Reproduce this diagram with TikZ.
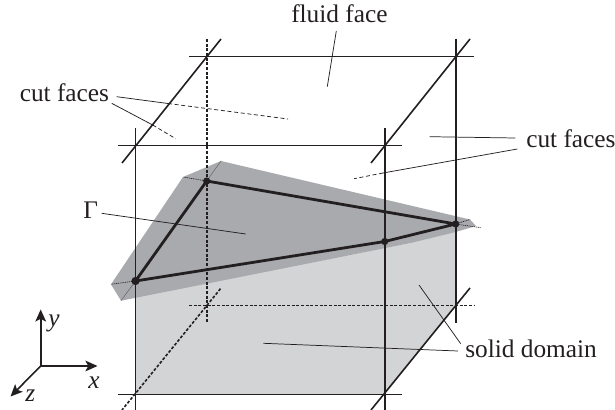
\documentclass[tikz,border=0pt]{standalone}
\usepackage{fontspec}
\setmainfont{Liberation Serif}
\usetikzlibrary{arrows.meta}
\definecolor{planegray}{RGB}{168,170,173}
\definecolor{solidgray}{RGB}{210,212,214}
\definecolor{inkc}{RGB}{35,31,32}
\tikzset{
  x=0.75pt,y=-0.75pt,
  edge/.style={draw=inkc,line width=1.2pt},
  hidden/.style={draw=inkc,line width=1.2pt,dash pattern=on 2.2pt off 1.3pt},
  thickedge/.style={draw=inkc,line width=2.1pt},
  leader/.style={draw=inkc,line width=0.55pt},
  leaderdash/.style={draw=inkc,line width=0.55pt,dash pattern=on 3pt off 2pt},
  planeline/.style={draw=inkc!70,line width=0.35pt},
  planedot/.style={draw=inkc,line width=0.5pt,dash pattern=on 0.8pt off 0.6pt},
  dot/.style={circle,fill=inkc,inner sep=0pt,minimum size=5.4pt},
  lab/.style={inner sep=0pt,anchor=base west,text=inkc,font=\fontsize{19pt}{22pt}\selectfont},
  axis/.style={draw=inkc,line width=1.2pt,-{Stealth[length=9pt,width=8pt,inset=2pt]}},
}
\begin{document}
\begin{tikzpicture}
\useasboundingbox (0,0) rectangle (615,410);
% triangle vertices
\coordinate (va) at (135.5,281);
\coordinate (vb) at (206.7,181);
\coordinate (vc) at (455.7,224);
\coordinate (vd) at (384.7,241.5);
% solid
\fill[solidgray] (135.5,297) -- (411,243) -- (455.7,231.5) -- (455.7,305.5) -- (384.7,394.5) -- (135.5,394.5) -- cycle;
% plane
\fill[planegray] (121,300.7) -- (111,284.3) -- (183,177) -- (221,161) -- (470,219.5) -- (476,226) -- (455.7,232) -- (411,243) -- cycle;
\coordinate (p1) at (121,300.7); \coordinate (p2) at (111,284.3);
\coordinate (p3) at (183,177); \coordinate (p4) at (221,161);
\coordinate (p5) at (470,219.5); \coordinate (p6) at (480.7,227.7);
\draw[planeline] (va) -- (p1);
\draw[planedot] (va) -- (p2);
\draw[planedot] (vb) -- (p3);
\draw[planeline] (vb) -- (p4);
\draw[planedot] (vc) -- (p6);
\draw[planedot] (vc) -- (p5);
% hidden edges
\coordinate (h1a) at (206.7,39); \coordinate (h1b) at (206.7,323);
\coordinate (h2a) at (189,305.5); \coordinate (h2b) at (474,305.5);
\coordinate (h3a) at (220.5,288.7); \coordinate (h3c) at (122,410);
\draw[hidden] (h1a) -- (h1b);
\draw[hidden] (h2a) -- (h2b);
\draw[hidden] (h3a) -- (h3c);
% visible edges
\coordinate (e1a) at (189,56.5); \coordinate (e1b) at (473.7,56.5);
\coordinate (e2a) at (118,145.5); \coordinate (e2b) at (402.3,145.5);
\coordinate (e3a) at (118,394.5); \coordinate (e3b) at (402.3,394.5);
\coordinate (e4a) at (135.5,128); \coordinate (e4b) at (135.5,410);
\coordinate (e5a) at (384.7,128); \coordinate (e5b) at (384.7,410);
\coordinate (e6a) at (455.7,39); \coordinate (e6b) at (455.7,323);
\coordinate (e7a) at (221,39); \coordinate (e7b) at (122,163);
\coordinate (e8a) at (470,39); \coordinate (e8b) at (371,163);
\coordinate (e9a) at (470,288); \coordinate (e9b) at (371,410);
\draw[edge] (e1a) -- (e1b);
\draw[edge] (e2a) -- (e2b);
\draw[edge] (e3a) -- (e3b);
\draw[edge] (e4a) -- (e4b);
\draw[edge] (e5a) -- (e5b);
\draw[edge] (e6a) -- (e6b);
\draw[edge] (e7a) -- (e7b);
\draw[edge] (e8a) -- (e8b);
\draw[edge] (e9a) -- (e9b);
% triangle
\draw[thickedge,line join=round] (va) -- (vb) -- (vc) -- (vd) -- cycle;
\node[dot,minimum size=6.2pt] (da) at (va) {};
\node[dot] (db) at (vb) {};
\node[dot] (dc) at (vc) {};
\node[dot] (dd) at (vd) {};
% labels
\node[lab] (fluid) at (291,23) {fluid face};
\node[lab] (cutl) at (19.5,102) {cut faces};
\node[lab] (cutr) at (526,148) {cut faces};
\node[lab] (gamma) at (83,219) {Γ};
\node[lab] (solid) at (465,357) {solid domain};
% leaders
\coordinate (lfa) at (336.3,31); \coordinate (lfb) at (327.3,86.7);
\draw[leader] (lfa) -- (lfb);
\coordinate (l1a) at (116.7,96.7); \coordinate (l1m) at (168,103.5); \coordinate (l1b) at (288,119);
\draw[leader] (l1a) -- (l1m);
\draw[leaderdash] (l1m) -- (l1b);
\coordinate (l2a) at (111.7,103.3); \coordinate (l2m) at (152.7,125); \coordinate (l2b) at (175.7,138.7);
\draw[leader] (l2a) -- (l2m);
\draw[leaderdash] (l2m) -- (l2b);
\coordinate (l3a) at (515.3,138); \coordinate (l3b) at (429.7,136.7);
\draw[leader] (l3a) -- (l3b);
\coordinate (l4a) at (517.3,149); \coordinate (l4m) at (383,173); \coordinate (l4b) at (354,178.7);
\draw[leader] (l4a) -- (l4m);
\draw[leaderdash] (l4m) -- (l4b);
\coordinate (l5a) at (101.7,213.3); \coordinate (l5b) at (245.7,234);
\draw[leader] (l5a) -- (l5b);
\coordinate (l6a) at (458,351); \coordinate (l6b) at (263.3,343.3);
\draw[leader] (l6a) -- (l6b);
\coordinate (l7a) at (460.7,343.7); \coordinate (l7b) at (419,285);
\draw[leader] (l7a) -- (l7b);
% axes
\coordinate (o) at (40.7,366);
\coordinate (ay) at (40.7,309.5);
\coordinate (ax) at (97.5,366);
\coordinate (az) at (10.5,396.5);
\draw[axis] (o) -- (ay);
\draw[axis] (o) -- (ax);
\draw[axis] (o) -- (az);
\node[lab] (ly) at (48,326) {\itshape y};
\node[lab] (lx) at (88,388) {\itshape x};
\node[lab] (lz) at (25,401) {\itshape z};
\end{tikzpicture}
\end{document}
